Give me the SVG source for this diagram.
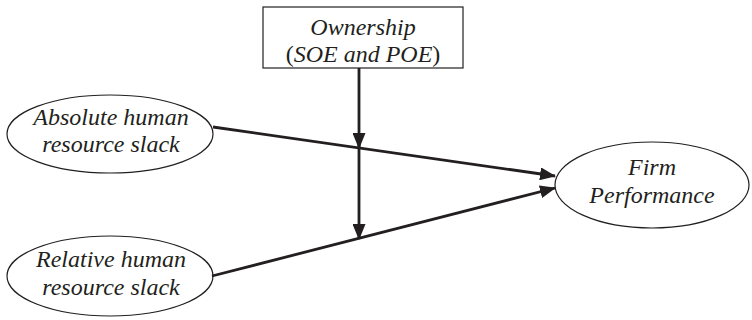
<svg xmlns="http://www.w3.org/2000/svg" width="752" height="320" viewBox="0 0 752 320">
<style>
.n{fill:#fff;stroke:#231f20;stroke-width:1.2}
.t{font-family:"Liberation Serif","Times New Roman",serif;font-size:24px;font-style:italic;fill:#231f20;text-anchor:middle}
.u{font-style:normal}
.c{stroke:#231f20;stroke-width:2.8;fill:none}
</style>
<defs>
<marker id="ah" markerWidth="16" markerHeight="13" viewBox="0 0 16 13" refX="15" refY="6.5" orient="auto" markerUnits="userSpaceOnUse">
<path d="M0,0 L16,6.5 L0,13 Z" fill="#231f20"/>
</marker>
</defs>
<g id="ownership">
<rect class="n" x="263" y="7" width="200" height="61"/>
<text class="t" x="363" y="35">Ownership</text>
<text class="t" x="363" y="62"><tspan class="u">(</tspan>SOE and POE<tspan class="u">)</tspan></text>
</g>
<g id="absolute">
<ellipse class="n" cx="110" cy="134" rx="103" ry="39"/>
<text class="t" x="111" y="125">Absolute human</text>
<text class="t" x="111" y="152">resource slack</text>
</g>
<g id="relative">
<ellipse class="n" cx="110" cy="276" rx="103" ry="40"/>
<text class="t" x="111" y="267">Relative human</text>
<text class="t" x="111" y="295">resource slack</text>
</g>
<g id="firm">
<ellipse class="n" cx="652" cy="185" rx="97" ry="43"/>
<text class="t" x="652" y="175">Firm</text>
<text class="t" x="652" y="203">Performance</text>
</g>
<g id="connectors">
<line class="c" x1="213" y1="127" x2="555" y2="176" marker-end="url(#ah)"/>
<line class="c" x1="212" y1="276" x2="555" y2="188" marker-end="url(#ah)"/>
<line class="c" x1="359" y1="68" x2="359" y2="148" marker-end="url(#ah)"/>
<line class="c" x1="359" y1="140" x2="359" y2="239" marker-end="url(#ah)"/>
</g>
</svg>
